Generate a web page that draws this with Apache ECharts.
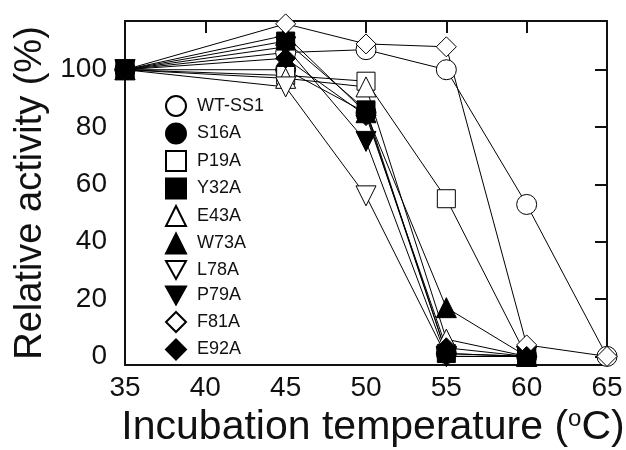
<!DOCTYPE html>
<html>
<head>
<meta charset="utf-8">
<script src="https://cdn.jsdelivr.net/npm/echarts@6/dist/echarts.min.js"></script>
<style>html,body{margin:0;padding:0;background:#fff;}#c{width:626px;height:450px;}</style>
</head>
<body>
<div id="c"></div>
<script>
const temps = [35, 45, 50, 55, 60, 65];
const seriesNames = ['WT-SS1','S16A','P19A','Y32A','E43A','W73A','L78A','P79A','F81A','E92A'];
const wtSS1 = [100, 106, 107, 100, 53, 0];
const s16A  = [100, 100, 85, 1, 0];
const p19A  = [100, 98, 96, 55, 0];
const y32A  = [100, 110, 86, 1, 0];
const e43A  = [100, 97, 94, 6, 0];
const w73A  = [100, 112, 85, 17, 0];
const l78A  = [100, 94, 56, 0, 0];
const p79A  = [100, 108, 75, 0, 0];
const f81A  = [100, 116, 109, 108, 4, 0];
const e92A  = [100, 104, 84, 3, 0];
const yTicks = [0, 20, 40, 60, 80, 100];

const values = [wtSS1, s16A, p19A, y32A, e43A, w73A, l78A, p79A, f81A, e92A];
const triDown = 'path://M0,0 L10,0 L5,9 Z';
const symbols = ['circle','circle','rect','rect','triangle','triangle',triDown,triDown,'diamond','diamond'];
const filled = [false,true,false,true,false,true,false,true,false,true];

const series = seriesNames.map((n, i) => ({
  name: n,
  type: 'line',
  data: values[i].map((v, j) => [temps[j], v]),
  symbol: symbols[i],
  symbolSize: (symbols[i] === 'rect') ? 18 : 20,
  showAllSymbol: true,
  lineStyle: {color: '#000', width: 1},
  itemStyle: {color: filled[i] ? '#000' : '#fff', borderColor: '#000', borderWidth: 1, opacity: 1},
  emphasis: {disabled: true},
  animation: false
}));

const chart = echarts.init(document.getElementById('c'), null, {renderer: 'canvas'});
chart.setOption({
  backgroundColor: '#fff',
  animation: false,
  grid: {left: 125, right: 19, top: 21, bottom: 85, outerBoundsMode: 'none', containLabel: false},
  legend: {
    orient: 'vertical',
    left: 160, top: 90,
    itemWidth: 20, itemHeight: 20, itemGap: 5.5,
    data: seriesNames.map((n, i) => ({name: n, icon: symbols[i]})),
    textStyle: {fontSize: 18, lineHeight: 20, color: '#111', fontFamily: 'Liberation Sans', padding: [0, 0, 0, 6]},
    selectedMode: false
  },
  xAxis: [{
    type: 'value', min: 35, max: 65, interval: 5,
    name: 'Incubation temperature ({sup|o}C)',
    nameLocation: 'middle', nameGap: 32,
    nameTextStyle: {fontSize: 41, color: '#111', fontFamily: 'Liberation Sans', padding: [0, 0, 0, 14],
      rich: {sup: {fontSize: 24, verticalAlign: 'top', color: '#111', fontFamily: 'Liberation Sans'}}},
    axisLine: {onZero: false, lineStyle: {color: '#111', width: 2}},
    axisTick: {show: false},
    axisLabel: {fontSize: 28, color: '#111', fontFamily: 'Liberation Sans', margin: 9},
    splitLine: {show: false}
  }, {
    type: 'value', min: 35, max: 65, interval: 5, position: 'top',
    axisLine: {onZero: false, lineStyle: {color: '#111', width: 2}},
    axisTick: {show: true, inside: true, length: 12, lineStyle: {color: '#111', width: 2}},
    axisLabel: {show: false},
    splitLine: {show: false}
  }],
  yAxis: [{
    type: 'value', min: -3, max: 117,
    name: 'Relative activity (%)',
    nameLocation: 'middle', nameGap: 74,
    nameTextStyle: {fontSize: 38, color: '#111', fontFamily: 'Liberation Sans'},
    axisLine: {onZero: false, lineStyle: {color: '#111', width: 2}},
    axisTick: {show: false},
    axisLabel: {customValues: yTicks, fontSize: 28, color: '#111', fontFamily: 'Liberation Sans', margin: 18},
    splitLine: {show: false}
  }, {
    type: 'value', min: -3, max: 117, position: 'right',
    axisLine: {onZero: false, lineStyle: {color: '#111', width: 2}},
    axisTick: {show: true, inside: true, length: 12, customValues: yTicks, lineStyle: {color: '#111', width: 2}},
    axisLabel: {show: false},
    splitLine: {show: false}
  }],
  series: series
});
</script>
</body>
</html>
